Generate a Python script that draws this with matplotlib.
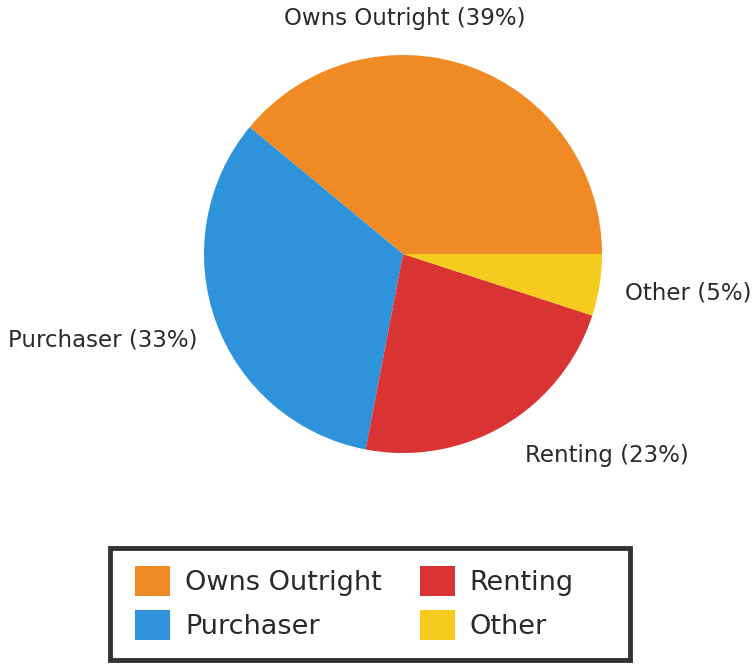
import matplotlib.pyplot as plt
from matplotlib.patches import Rectangle

labels = ['Owns Outright', 'Purchaser', 'Renting', 'Other']
shares = [39, 33, 23, 5]
colors = ['#F08A24', '#2E93DB', '#D93333', '#F5CB1E']

W, H = 754, 664
cx, cy, r = 403, 254, 199  # pie centre / radius in pixels

fig = plt.figure(figsize=(W / 100, H / 100), dpi=100)
ax = fig.add_axes([0, 0, 1, 1])
wedges, _ = ax.pie(shares, colors=colors, startangle=0, counterclock=True,
                   radius=1, center=(0, 0), wedgeprops=dict(linewidth=0))
ax.set_xlim(-cx / r, (W - cx) / r)
ax.set_ylim(-(H - cy) / r, cy / r)
ax.set_aspect('auto')
ax.axis('off')

# outside labels (pixel spots converted to pie units)
def px(x, y):
    return (x - cx) / r, (cy - y) / r

lab_pos = [((405, 18), 'center'), ((198, 340), 'right'),
           ((525, 455), 'left'), ((625, 293), 'left')]
for name, pct, (pt, ha) in zip(labels, shares, lab_pos):
    x, y = px(*pt)
    ax.text(x, y, f'{name} ({pct}%)', ha=ha, va='center', fontsize=16.5,
            color='#2a2a2a')

# legend box drawn by hand so the padding matches
fig.patches.append(Rectangle((110 / W, 4 / H), 520 / W, 112 / H,
                             transform=fig.transFigure, fill=False,
                             lw=3.5, ec='#333333'))
fs = 19.5
u = fs * 100 / 72  # font size in px
leg = fig.legend(wedges, labels, ncol=2, loc='upper left',
                 bbox_to_anchor=(135 / W, 1 - 566 / H), frameon=False,
                 fontsize=fs, borderpad=0, borderaxespad=0,
                 handlelength=35 / u, handleheight=36 / u,
                 handletextpad=15 / u, columnspacing=38 / u,
                 labelspacing=14 / u)
for t in leg.get_texts():
    t.set_color('#2a2a2a')

fig.savefig('out.png', dpi=100)
